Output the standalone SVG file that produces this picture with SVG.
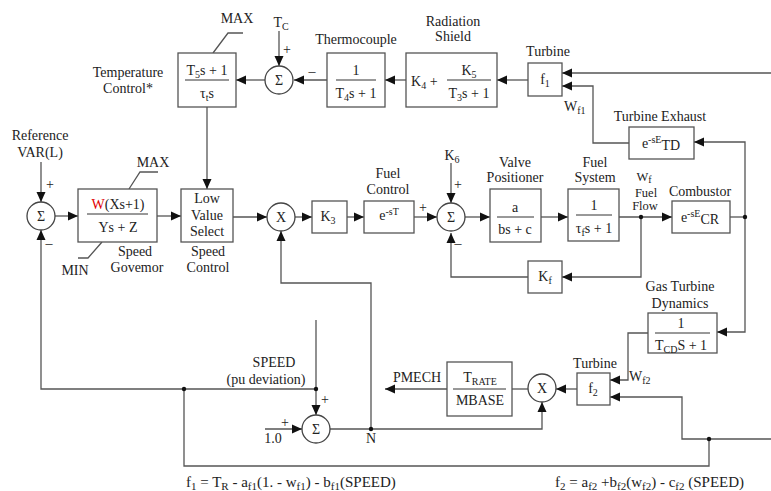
<svg xmlns="http://www.w3.org/2000/svg" width="771" height="491" viewBox="0 0 771 491">
<defs>
<marker id="ar" markerUnits="userSpaceOnUse" markerWidth="11" markerHeight="10" refX="10" refY="5" orient="auto">
<path d="M0,0.5 L10,5 L0,9.5 z" fill="#111"/>
</marker>
</defs>
<style>
text{font-family:"Liberation Serif","Times New Roman",serif;font-size:14px;fill:#222;}
.m{text-anchor:middle;}
.s{font-size:10px;}
.t{font-size:12.5px;}
.f{font-size:15px;}
.f .s{font-size:11px;}
.box{fill:#fff;stroke:#555;stroke-width:1.3;}
.c{fill:#fff;stroke:#444;stroke-width:1.3;}
.fl{stroke:#333;stroke-width:1;}
#conn path,#conn polyline{fill:none;stroke:#555;stroke-width:1.3;}
.a{marker-end:url(#ar);}
.dot{fill:#111;}
</style>
<rect width="771" height="491" fill="#fff"/>

<g id="conn">
<path class="a" d="M771,73 L562,73"/>
<path class="a" d="M629,143 L593,143 L593,86 L562,86"/>
<path class="a" d="M745,217 L745,142 L694,142"/>
<path class="a" d="M745,217 L745,332 L717,332"/>
<path class="a" d="M528,80 L497,80"/>
<path class="a" d="M406,80 L385,80"/>
<path class="a" d="M327,80 L294,80"/>
<path class="a" d="M265,80 L236,80"/>
<path class="a" d="M279,31 L279,66"/>
<path class="a" d="M207,107 L207,189"/>
<polyline points="213,53 228,33 243,33"/>
<polyline points="129,189 140,172 158,172"/>
<polyline points="102,242 88,258 78,258"/>
<path class="a" d="M41,162 L41,202"/>
<path class="a" d="M55,216 L78,216"/>
<path class="a" d="M157,216 L181,216"/>
<path class="a" d="M233,217 L267,217"/>
<path class="a" d="M295,217 L312,217"/>
<path class="a" d="M347,217 L364,217"/>
<path class="a" d="M414,217 L437,217"/>
<path class="a" d="M451,163 L451,203"/>
<path class="a" d="M465,217 L490,217"/>
<path class="a" d="M541,217 L568,217"/>
<path class="a" d="M619,217 L672,217"/>
<path class="a" d="M641,217 L641,277 L562,277"/>
<path class="a" d="M528,277 L451,277 L451,233"/>
<path d="M730,217 L745,217"/>
<path class="a" d="M648,333 L628,333 L628,380 L610,380"/>
<path class="a" d="M771,439 L682,439 L682,397 L610,397"/>
<path d="M709,439 L709,466 L184,466 L184,389"/>
<path class="a" d="M577,389 L556,389"/>
<path d="M528,389 L512,389"/>
<path class="a" d="M447,389 L385,389"/>
<path class="a" d="M316,320 L316,415"/>
<path class="a" d="M316,389 L41,389 L41,230"/>
<path class="a" d="M265,429 L302,429"/>
<path class="a" d="M330,429 L542,429 L542,402"/>
<path class="a" d="M371,429 L371,283 L281,283 L281,231"/>
<circle class="dot" cx="184" cy="389" r="2.2"/>
<circle class="dot" cx="316" cy="389" r="2.2"/>
<circle class="dot" cx="371" cy="429" r="2.2"/>
<circle class="dot" cx="709" cy="439" r="2.2"/>
<circle class="dot" cx="641" cy="217" r="2.2"/>
<circle class="dot" cx="745" cy="217" r="2.2"/>
</g>

<g id="tempctl">
<rect class="box" x="178" y="53" width="58" height="54"/>
<text class="m" x="207" y="75">T<tspan class="s" dy="3">5</tspan><tspan dy="-3">s + 1</tspan></text>
<line class="fl" x1="185" y1="80" x2="229" y2="80"/>
<text class="m" x="207" y="98">τ<tspan class="s" dy="3">t</tspan><tspan dy="-3">s</tspan></text>
<text class="m" x="128" y="77">Temperature</text>
<text class="m" x="128" y="93">Control*</text>
<text class="m" x="237" y="23">MAX</text>
</g>

<g id="sumtc">
<circle class="c" cx="279" cy="80" r="14"/>
<text class="m" x="279" y="85">Σ</text>
<text class="m" x="281" y="27">T<tspan class="s" dy="3">C</tspan></text>
<text class="m" x="287" y="54">+</text>
<text class="m" x="312" y="76">–</text>
</g>

<g id="thermo">
<rect class="box" x="327" y="53" width="58" height="54"/>
<text class="m" x="356" y="75">1</text>
<line class="fl" x1="336" y1="80" x2="376" y2="80"/>
<text class="m" x="356" y="98">T<tspan class="s" dy="3">4</tspan><tspan dy="-3">s + 1</tspan></text>
<text class="m" x="356" y="44">Thermocouple</text>
</g>

<g id="radshield">
<rect class="box" x="406" y="53" width="91" height="54"/>
<text x="411" y="86">K<tspan class="s" dy="3">4</tspan><tspan dy="-3"> +</tspan></text>
<text class="m" x="469" y="75">K<tspan class="s" dy="3">5</tspan></text>
<line class="fl" x1="447" y1="80" x2="491" y2="80"/>
<text class="m" x="469" y="98">T<tspan class="s" dy="3">3</tspan><tspan dy="-3">s + 1</tspan></text>
<text class="m" x="453" y="26">Radiation</text>
<text class="m" x="453" y="41">Shield</text>
</g>

<g id="turbine1">
<rect class="box" x="528" y="63" width="34" height="33"/>
<text class="m" x="545" y="84">f<tspan class="s" dy="3">1</tspan></text>
<text class="m" x="548" y="56">Turbine</text>
<text x="564" y="111">W<tspan class="s" dy="3">f1</tspan></text>
</g>

<g id="exhaust">
<rect class="box" x="629" y="127" width="65" height="32"/>
<text class="m" x="661" y="148">e<tspan class="s" dy="-5">-sE</tspan><tspan dy="7">TD</tspan></text>
<text class="m" x="660" y="121">Turbine Exhaust</text>
</g>

<g id="sumref">
<circle class="c" cx="41" cy="216" r="14"/>
<text class="m" x="41" y="221">Σ</text>
<text class="m" x="40" y="140">Reference</text>
<text class="m" x="40" y="157">VAR(L)</text>
<text class="m" x="50" y="189">+</text>
<text class="m" x="49" y="248">–</text>
</g>

<g id="governor">
<rect class="box" x="78" y="189" width="79" height="53"/>
<text class="m" x="118" y="209"><tspan fill="#e00000">W</tspan>(Xs+1)</text>
<line class="fl" x1="87" y1="214" x2="148" y2="214"/>
<text class="m" x="118" y="232">Ys + Z</text>
<text class="m" x="153" y="167">MAX</text>
<text class="m" x="75" y="275">MIN</text>
<text class="m" x="135" y="256">Speed</text>
<text class="m" x="137" y="272">Govemor</text>
</g>

<g id="lvs">
<rect class="box" x="181" y="189" width="52" height="53"/>
<text class="m" x="207" y="203">Low</text>
<text class="m" x="207" y="220">Value</text>
<text class="m" x="207" y="236">Select</text>
<text class="m" x="208" y="256">Speed</text>
<text class="m" x="208" y="272">Control</text>
</g>

<g id="mult1">
<circle class="c" cx="281" cy="217" r="14"/>
<text class="m" x="281" y="222">X</text>
</g>

<g id="k3">
<rect class="box" x="312" y="201" width="35" height="32"/>
<text class="m" x="328" y="221">K<tspan class="s" dy="3">3</tspan></text>
</g>

<g id="fuelctl">
<rect class="box" x="364" y="201" width="50" height="32"/>
<text class="m" x="389" y="220">e<tspan class="s" dy="-5">-sT</tspan></text>
<text class="m" x="388" y="178">Fuel</text>
<text class="m" x="388" y="194">Control</text>
<text class="m" x="423" y="212">+</text>
</g>

<g id="sumfuel">
<circle class="c" cx="451" cy="217" r="14"/>
<text class="m" x="451" y="222">Σ</text>
<text class="m" x="452" y="160">K<tspan class="s" dy="3">6</tspan></text>
<text class="m" x="458" y="189">+</text>
<text class="m" x="458" y="248">–</text>
</g>

<g id="valve">
<rect class="box" x="490" y="189" width="51" height="53"/>
<text class="m" x="515" y="212">a</text>
<line class="fl" x1="497" y1="217" x2="534" y2="217"/>
<text class="m" x="515" y="234">bs + c</text>
<text class="m" x="515" y="167">Valve</text>
<text class="m" x="515" y="182">Positioner</text>
</g>

<g id="fuelsys">
<rect class="box" x="568" y="189" width="51" height="52"/>
<text class="m" x="594" y="210">1</text>
<line class="fl" x1="576" y1="215" x2="612" y2="215"/>
<text class="m" x="594" y="233">τ<tspan class="s" dy="3">f</tspan><tspan dy="-3">s + 1</tspan></text>
<text class="m" x="595" y="167">Fuel</text>
<text class="m" x="595" y="182">System</text>
<text class="m t" x="644" y="181">W<tspan class="s" dy="2">f</tspan></text>
<text class="m t" x="646" y="197">Fuel</text>
<text class="m t" x="645" y="210">Flow</text>
</g>

<g id="combustor">
<rect class="box" x="672" y="201" width="58" height="32"/>
<text class="m" x="700" y="222">e<tspan class="s" dy="-5">-sE</tspan><tspan dy="7">CR</tspan></text>
<text class="m" x="700" y="196">Combustor</text>
</g>

<g id="kf">
<rect class="box" x="528" y="261" width="34" height="32"/>
<text class="m" x="545" y="281">K<tspan class="s" dy="3">f</tspan></text>
</g>

<g id="gtd">
<rect class="box" x="648" y="313" width="69" height="40"/>
<text class="m" x="681" y="328">1</text>
<line class="fl" x1="655" y1="333" x2="710" y2="333"/>
<text class="m" x="681" y="350">T<tspan class="s" dy="3">CD</tspan><tspan dy="-3">S + 1</tspan></text>
<text class="m" x="680" y="291">Gas Turbine</text>
<text class="m" x="680" y="308">Dynamics</text>
</g>

<g id="turbine2">
<rect class="box" x="577" y="373" width="33" height="32"/>
<text class="m" x="593" y="393">f<tspan class="s" dy="3">2</tspan></text>
<text class="m" x="595" y="368">Turbine</text>
<text x="629" y="381">W<tspan class="s" dy="3">f2</tspan></text>
</g>

<g id="mult2">
<circle class="c" cx="542" cy="388" r="14"/>
<text class="m" x="542" y="393">X</text>
</g>

<g id="trate">
<rect class="box" x="447" y="362" width="65" height="54"/>
<text class="m" x="480" y="382">T<tspan class="s" dy="3">RATE</tspan></text>
<line class="fl" x1="453" y1="389" x2="506" y2="389"/>
<text class="m" x="480" y="405">MBASE</text>
<text class="m" x="417" y="382">PMECH</text>
</g>

<g id="sumspeed">
<circle class="c" cx="316" cy="429" r="14"/>
<text class="m" x="316" y="434">Σ</text>
<text class="m" x="274" y="367">SPEED</text>
<text class="m" x="266" y="384">(pu deviation)</text>
<text class="m" x="325" y="404">+</text>
<text class="m" x="285" y="427">+</text>
<text class="m" x="273" y="443">1.0</text>
<text class="m" x="371" y="443">N</text>
</g>

<g id="formulas">
<text class="f" x="186" y="487">f<tspan class="s" dy="3">1</tspan><tspan dy="-3"> = T</tspan><tspan class="s" dy="3">R</tspan><tspan dy="-3"> - a</tspan><tspan class="s" dy="3">f1</tspan><tspan dy="-3">(1. - w</tspan><tspan class="s" dy="3">f1</tspan><tspan dy="-3">) - b</tspan><tspan class="s" dy="3">f1</tspan><tspan dy="-3">(SPEED)</tspan></text>
<text class="f" x="555" y="487">f<tspan class="s" dy="3">2</tspan><tspan dy="-3"> = a</tspan><tspan class="s" dy="3">f2</tspan><tspan dy="-3"> +b</tspan><tspan class="s" dy="3">f2</tspan><tspan dy="-3">(w</tspan><tspan class="s" dy="3">f2</tspan><tspan dy="-3">) - c</tspan><tspan class="s" dy="3">f2</tspan><tspan dy="-3"> (SPEED)</tspan></text>
</g>
</svg>
